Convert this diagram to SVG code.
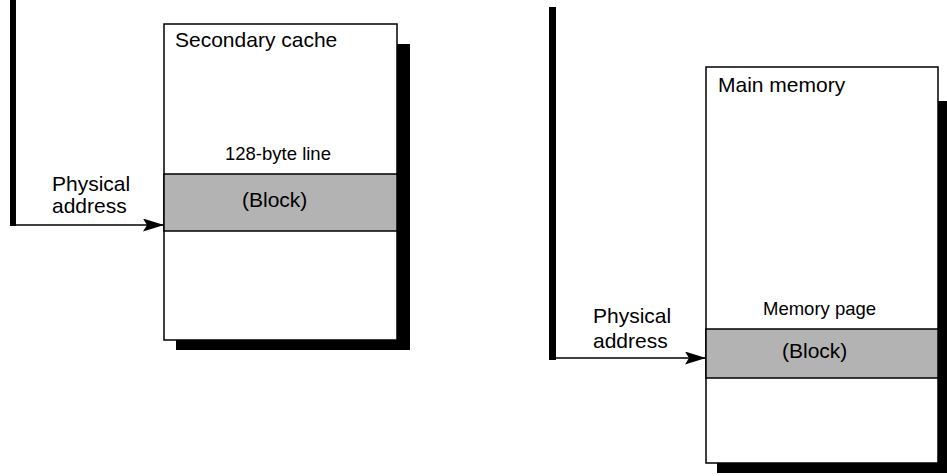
<svg xmlns="http://www.w3.org/2000/svg" width="947" height="476" viewBox="0 0 947 476">
<style>
.box{fill:#fff;stroke:#000;stroke-width:1.5}
.band{fill:#b3b3b3;stroke:#000;stroke-width:1.5}
.shadow{fill:#000}
.big{font-family:"Liberation Sans",Arial,sans-serif;font-size:21px;fill:#000}
.small{font-family:"Liberation Sans",Arial,sans-serif;font-size:18.5px;fill:#000}
.line{stroke:#000;stroke-width:1.5;fill:none}
.bar{fill:#000}
</style>
<defs>
<marker id="arr" markerWidth="21" markerHeight="13" refX="21" refY="6.5" orient="auto" markerUnits="userSpaceOnUse">
<path d="M0,0 L21,6.5 L0,13 L4,6.5 Z" fill="#000"/>
</marker>
</defs>
<g id="cache">
<rect class="shadow" x="176" y="44" width="234" height="306"/>
<rect class="box" x="164" y="24" width="233" height="316"/>
<rect class="band" x="164" y="174" width="233" height="57"/>
<text class="big" x="175" y="47">Secondary cache</text>
<text class="small" x="225" y="160">128-byte line</text>
<text class="big" x="242" y="207">(Block)</text>
</g>
<g id="memory">
<rect class="shadow" x="717" y="101" width="240" height="372"/>
<rect class="box" x="706" y="67" width="232" height="396"/>
<rect class="band" x="706" y="329" width="232" height="49"/>
<text class="big" x="718" y="92">Main memory</text>
<text class="small" x="763" y="315">Memory page</text>
<text class="big" x="782" y="358">(Block)</text>
</g>
<g id="connectors">
<rect class="bar" x="10" y="0" width="6" height="226"/>
<path class="line" d="M16,225 H164" marker-end="url(#arr)"/>
<text class="big" x="52" y="191">Physical</text>
<text class="big" x="52" y="213">address</text>
<rect class="bar" x="549" y="7" width="7" height="353"/>
<path class="line" d="M556,358 H706" marker-end="url(#arr)"/>
<text class="big" x="593" y="323">Physical</text>
<text class="big" x="593" y="348">address</text>
</g>
</svg>
